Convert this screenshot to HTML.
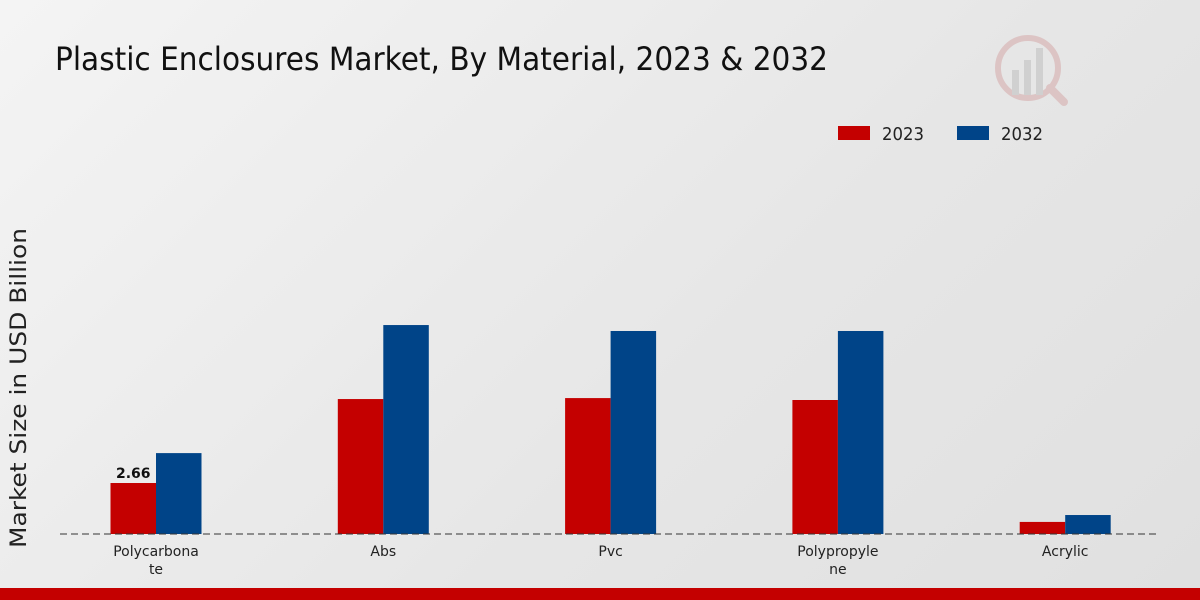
<!DOCTYPE html>
<html><head><meta charset="utf-8"><style>
html,body{margin:0;padding:0;width:1200px;height:600px;overflow:hidden}
body{background:linear-gradient(135deg,#f4f4f4 0%,#e6e6e6 60%,#e0e0e0 100%);font-family:"DejaVu Sans","Liberation Sans",sans-serif}
</style></head><body>
<svg id="chart" width="1200" height="600" xmlns="http://www.w3.org/2000/svg">
<text x="55" y="70" font-size="32" fill="#111" textLength="773" lengthAdjust="spacingAndGlyphs" font-family="DejaVu Sans, sans-serif">Plastic Enclosures Market, By Material, 2023 &amp; 2032</text>
<text transform="translate(26,388) rotate(-90)" text-anchor="middle" font-size="22" fill="#222" textLength="320" lengthAdjust="spacingAndGlyphs" font-family="DejaVu Sans, sans-serif">Market Size in USD Billion</text>
<g>
<rect x="838" y="126" width="32" height="14" fill="#c40000"/>
<text x="882" y="140" font-size="18" fill="#222" textLength="42" lengthAdjust="spacingAndGlyphs">2023</text>
<rect x="957" y="126" width="32" height="14" fill="#004488"/>
<text x="1001" y="140" font-size="18" fill="#222" textLength="42" lengthAdjust="spacingAndGlyphs">2032</text>
</g>
<g opacity="0.35">
<circle cx="1028" cy="68" r="30" fill="none" stroke="#c88" stroke-width="6"/>
<rect x="1012" y="70" width="7" height="25" fill="#aaa"/><rect x="1024" y="60" width="7" height="35" fill="#aaa"/><rect x="1036" y="48" width="7" height="47" fill="#aaa"/>
<line x1="1050" y1="88" x2="1064" y2="102" stroke="#c88" stroke-width="8" stroke-linecap="round"/>
</g>
<g id="bars"></g>
<line x1="60" y1="534" x2="1160" y2="534" stroke="#333" stroke-dasharray="7,4" stroke-width="1"/>
<g id="xlabels"></g>
<rect x="0" y="588" width="1200" height="12" fill="#c40000"/>
</svg>
<script>
const categories=["Polycarbona|te","Abs","Pvc","Polypropyle|ne","Acrylic"];
const values2023=[2.66,7.04,7.09,6.99,0.63];
const values2032=[4.22,10.9,10.59,10.59,0.99];
const ns="http://www.w3.org/2000/svg";
const baseY=534, pxPerUnit=19.17, x0=156, step=227.3, bw=45.5;
const y=v=>baseY-v*pxPerUnit;
const xc=i=>x0+i*step;
const bars=document.getElementById('bars'), xl=document.getElementById('xlabels');
categories.forEach((c,i)=>{
  [[values2023,"#c40000",-bw],[values2032,"#004488",0]].forEach(([arr,col,off])=>{
    const r=document.createElementNS(ns,'rect');
    r.setAttribute('x',xc(i)+off);r.setAttribute('y',y(arr[i]));
    r.setAttribute('width',bw);r.setAttribute('height',baseY-y(arr[i]));r.setAttribute('fill',col);
    
    
    bars.appendChild(r);
  });
  c.split('|').forEach((ln,k)=>{
    const t=document.createElementNS(ns,'text');
    t.setAttribute('x',xc(i));t.setAttribute('y',556+k*18);t.setAttribute('text-anchor','middle');
    t.setAttribute('font-size','14');t.setAttribute('fill','#222');t.textContent=ln;
    
    
    xl.appendChild(t);
  });
});
const lab=document.createElementNS(ns,'text');
lab.setAttribute('x',xc(0)-bw/2);lab.setAttribute('y',y(values2023[0])-5);
lab.setAttribute('text-anchor','middle');lab.setAttribute('font-size','14');lab.setAttribute('font-weight','bold');lab.setAttribute('fill','#111');
lab.textContent=values2023[0].toFixed(2);


bars.appendChild(lab);
</script>
</body></html>
